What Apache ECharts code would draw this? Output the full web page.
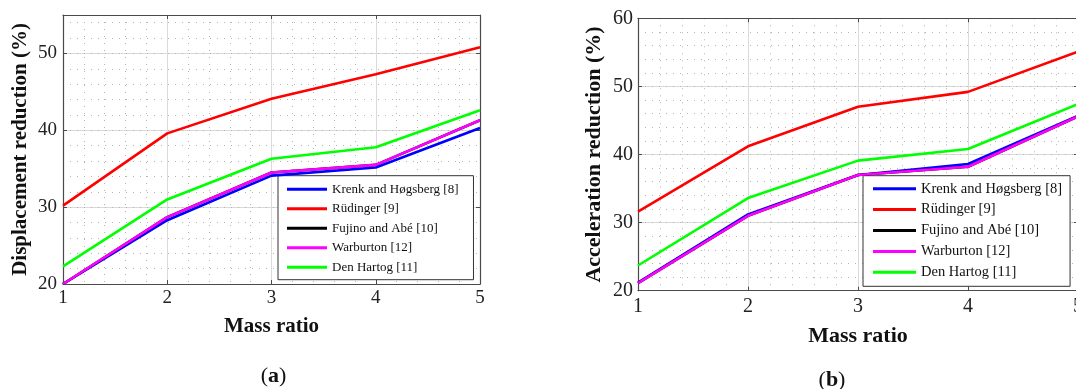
<!DOCTYPE html>
<html>
<head>
<meta charset="utf-8">
<script src="https://cdn.jsdelivr.net/npm/echarts@6/dist/echarts.min.js"></script>
<style>
  html, body { margin: 0; padding: 0; background: #fff; }
  #chart { width: 1076px; height: 389px; }
</style>
</head>
<body>
<div id="chart"></div>
<script>
// Mass ratio on the horizontal axis
const massRatio = [1, 2, 3, 4, 5];
const xTicks = [1, 2, 3, 4, 5];

const seriesNames = ['Krenk and Høgsberg [8]', 'Rüdinger [9]', 'Fujino and Abé [10]', 'Warburton [12]', 'Den Hartog [11]'];
const seriesColors = ['#0000ff', '#ff0000', '#000000', '#ff00ff', '#00ff00'];

// (a) Displacement reduction (%)
const dispKrenk      = [20.0, 28.3, 34.1, 35.15, 40.3];
const dispRudinger   = [30.2, 39.6, 44.1, 47.3, 50.8];
const dispFujino     = [20.0, 28.7, 34.5, 35.5, 41.3];
const dispWarburton  = [20.0, 28.7, 34.5, 35.5, 41.3];
const dispDenHartog  = [22.3, 31.0, 36.3, 37.8, 42.6];
const dispTicks = [20, 30, 40, 50];

// (b) Acceleration reduction (%)
const accKrenk      = [21.2, 31.2, 37.0, 38.6, 45.7];
const accRudinger   = [31.6, 41.2, 47.0, 49.2, 55.1];
const accFujino     = [21.1, 31.0, 37.0, 38.2, 45.6];
const accWarburton  = [21.1, 31.0, 37.0, 38.2, 45.6];
const accDenHartog  = [23.7, 33.6, 39.1, 40.8, 47.4];
const accTicks = [20, 30, 40, 50, 60];

const FRAME = '#4a4a4a';
const MAJOR = '#dadada';
const MINOR = '#b4b4b4';
const SERIF = 'Liberation Serif';

function pairs(ys) { return massRatio.map((x, i) => [x, ys[i]]); }

function xAxes(gridIndex, fs, labelMargin, nameGap, nameSize) {
  return [
    {
      type: 'value', gridIndex, position: 'bottom',
      min: xTicks[0], max: xTicks[xTicks.length - 1], interval: 1,
      name: 'Mass ratio', nameLocation: 'middle', nameGap,
      nameTextStyle: { fontFamily: SERIF, fontWeight: 'bold', fontSize: nameSize, color: '#111' },
      axisLine: { show: true, lineStyle: { color: FRAME, width: 1.2 } },
      axisTick: { show: true, inside: true, length: 4, lineStyle: { color: FRAME } },
      axisLabel: { fontFamily: SERIF, fontSize: fs, color: '#222', margin: labelMargin, hideOverlap: false },
      splitLine: { show: true, lineStyle: { color: MAJOR, width: 1 } },
      minorTick: { show: false, splitNumber: 5 },
      minorSplitLine: { show: true, lineStyle: { color: MINOR, width: 1, type: [1, 6] } }
    },
    {
      type: 'value', gridIndex, position: 'top',
      min: xTicks[0], max: xTicks[xTicks.length - 1], interval: 1,
      axisLine: { show: true, lineStyle: { color: FRAME, width: 1.2 } },
      axisTick: { show: true, inside: true, length: 4, lineStyle: { color: FRAME } },
      axisLabel: { show: false },
      splitLine: { show: false }
    }
  ];
}

function yAxes(gridIndex, ticks, max, name, fs, labelMargin, nameGap, nameSize) {
  return [
    {
      type: 'value', gridIndex, position: 'left',
      min: ticks[0], max, interval: 10,
      name, nameLocation: 'middle', nameGap,
      nameTextStyle: { fontFamily: SERIF, fontWeight: 'bold', fontSize: nameSize, color: '#111' },
      axisLine: { show: true, lineStyle: { color: FRAME, width: 1.2 } },
      axisTick: { show: true, inside: true, length: 4, lineStyle: { color: FRAME } },
      axisLabel: {
        fontFamily: SERIF, fontSize: fs, color: '#222', margin: labelMargin,
        formatter: v => (ticks.indexOf(v) >= 0 ? String(v) : '')
      },
      splitLine: { show: true, lineStyle: { color: MAJOR, width: 1 } }
    },
    {
      type: 'value', gridIndex, position: 'right',
      min: ticks[0], max, interval: 10,
      axisLine: { show: true, lineStyle: { color: FRAME, width: 1.2 } },
      axisTick: { show: true, inside: true, length: 4, lineStyle: { color: FRAME } },
      axisLabel: { show: false },
      splitLine: { show: false }
    },
    {
      // dotted minor grid every 2 %
      type: 'value', gridIndex, position: 'left',
      min: ticks[0], max, interval: 2,
      axisLine: { show: false }, axisTick: { show: false }, axisLabel: { show: false },
      splitLine: { show: true, lineStyle: { color: MINOR, width: 1, type: [1, 6] } }
    }
  ];
}

const dispSets = [dispKrenk, dispRudinger, dispFujino, dispWarburton, dispDenHartog];
const accSets = [accKrenk, accRudinger, accFujino, accWarburton, accDenHartog];

function lineSeries(sets, xAxisIndex, yAxisIndex) {
  return sets.map((ys, i) => ({
    type: 'line', name: seriesNames[i], xAxisIndex, yAxisIndex,
    data: pairs(ys), symbol: 'none', smooth: false,
    lineStyle: { color: seriesColors[i], width: 2.6 },
    itemStyle: { color: seriesColors[i] },
    z: 5 + i
  }));
}

function legend(left, top, fs, lh, gap, iw, pad) {
  return {
    orient: 'vertical', left, top,
    data: seriesNames.map(n => ({ name: n, icon: 'rect' })),
    itemWidth: iw, itemHeight: 3, itemGap: gap,
    padding: pad,
    backgroundColor: '#fff', borderColor: '#333', borderWidth: 1, borderRadius: 0,
    textStyle: { fontFamily: SERIF, fontSize: fs, lineHeight: lh, color: '#111' },
    selectedMode: false
  };
}

const chart = echarts.init(document.getElementById('chart'), null, { renderer: 'canvas' });

chart.setOption({
  animation: false,
  backgroundColor: '#fff',
  grid: [
    { left: 63, top: 15, width: 417, height: 269, containLabel: false, outerBoundsMode: 'none' },
    { left: 638, top: 18.3, width: 440, height: 272.4, containLabel: false, outerBoundsMode: 'none' }
  ],
  xAxis: [
    ...xAxes(0, 19, 5, 32, 21),
    ...xAxes(1, 20, 6, 35, 22)
  ],
  yAxis: [
    ...yAxes(0, dispTicks, 55, 'Displacement reduction (%)', 19, 6, 32, 21),
    ...yAxes(1, accTicks, 60, 'Acceleration reduction (%)', 20, 5, 33, 22)
  ],
  legend: [
    legend(278, 175.7, 13, 15, 4.5, 40, [6, 15, 5, 9]),
    legend(863, 175.7, 14.5, 16, 4.9, 43, [5, 8, 6, 10])
  ],
  series: [
    ...lineSeries(dispSets, 0, 0),
    ...lineSeries(accSets, 2, 3)
  ],
  graphic: [
    {
      type: 'text', x: 273.5, y: 376,
      style: {
        text: '{p|(}{b|a}{p|)}', align: 'center', verticalAlign: 'middle',
        rich: {
          p: { fontFamily: SERIF, fontSize: 22, fill: '#111' },
          b: { fontFamily: SERIF, fontSize: 22, fontWeight: 'bold', fill: '#111' }
        }
      }
    },
    {
      type: 'text', x: 832, y: 380,
      style: {
        text: '{p|(}{b|b}{p|)}', align: 'center', verticalAlign: 'middle',
        rich: {
          p: { fontFamily: SERIF, fontSize: 22, fill: '#111' },
          b: { fontFamily: SERIF, fontSize: 22, fontWeight: 'bold', fill: '#111' }
        }
      }
    }
  ]
});
</script>
</body>
</html>
